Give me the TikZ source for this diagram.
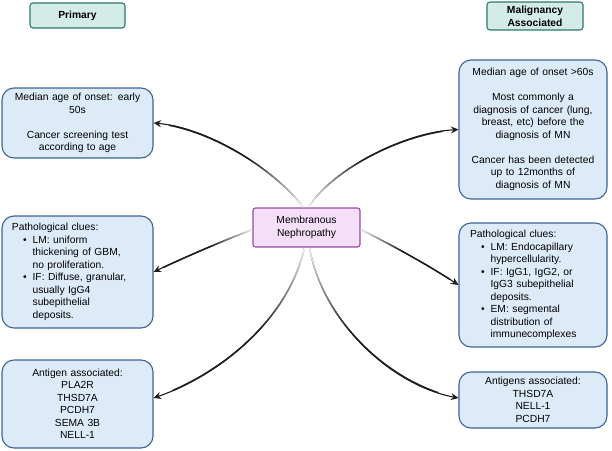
\documentclass[tikz,border=0pt]{standalone}
\usepackage{fontspec}
\setmainfont{Liberation Sans}
\usetikzlibrary{arrows.meta,decorations.markings}
\definecolor{boxfill}{RGB}{221,235,249}
\definecolor{boxdraw}{RGB}{58,100,150}
\definecolor{hdrfill}{RGB}{212,236,232}
\definecolor{hdrdraw}{RGB}{45,120,105}
\definecolor{mnfill}{RGB}{244,222,248}
\definecolor{mndraw}{RGB}{150,75,165}
\definecolor{linedark}{RGB}{30,30,30}
\begin{document}
\begin{tikzpicture}[x=1pt,y=-1pt,
  infobox/.style={draw=boxdraw, fill=boxfill, line width=1.1pt, rounded corners=12pt,
    font=\fontsize{10.3}{12.5}\selectfont, inner xsep=0pt, inner ysep=0pt},
  hdrbox/.style={draw=hdrdraw, fill=hdrfill, line width=1.1pt, rounded corners=3pt,
    font=\fontsize{10.3}{13}\selectfont\bfseries, align=center, inner sep=0pt},
  mnbox/.style={draw=mndraw, fill=mnfill, line width=1.1pt, rounded corners=2.5pt,
    font=\fontsize{10.3}{13.5}\selectfont, align=center, inner sep=0pt},
  gradarrow/.style={draw=linedark, line width=1.1pt, -{Stealth[length=7.5pt,width=7pt]},
    decoration={markings,
      mark=between positions 0 and 0.9 step 1.2pt with {
        \pgfmathsetmacro\gfr{\pgfkeysvalueof{/pgf/decoration/mark info/distance from start}/\pgfdecoratedpathlength}
        \pgfmathtruncatemacro\gpc{min(100,4+230*\gfr)}
        \draw[line width=1.4pt, line cap=butt, -, linedark!\gpc!white] (0pt,0pt) -- (1.7pt,0pt);
      }
    },
    postaction={decorate}}
]
\useasboundingbox (0,0) rectangle (612,450);

% headers
\node[hdrbox, minimum width=95pt, minimum height=25pt] (hp) at (77.5,15.5) {Primary};
\node[hdrbox, minimum width=96pt, minimum height=28pt] (hm) at (535,16) {Malignancy\\Associated};

% central node
\node[mnbox, minimum width=107pt, minimum height=39pt] (mn) at (306.5,227.5) {Membranous\\Nephropathy};

% left boxes
\node[infobox, minimum width=151pt, minimum height=70pt, text width=140pt, align=center] (lb1) at (77.5,123)
  {Median age of onset: early\\ 50s\\[12.5pt] Cancer screening test\\ according to age};
\node[infobox, minimum width=151pt, minimum height=112pt, text width=131pt, align=left] (lb2) at (77.5,272)
  {\begin{tabular}{@{\hspace{11pt}}c@{\hspace{6pt}}l@{}}
   \multicolumn{2}{@{}l@{}}{Pathological clues:}\\
   \textbullet & LM: uniform\\
               & thickening of GBM,\\
               & no proliferation.\\
   \textbullet & IF: Diffuse, granular,\\
               & usually IgG4\\
               & subepithelial\\
               & deposits.
   \end{tabular}};
\node[infobox, minimum width=151pt, minimum height=88pt, text width=140pt, align=center] (lb3) at (77.5,404)
  {Antigen associated:\\ PLA2R\\ THSD7A\\ PCDH7\\ SEMA 3B\\ NELL-1};

% right boxes
\node[infobox, minimum width=148pt, minimum height=139pt, text width=140pt, align=center] (rb1) at (533,129.5)
  {Median age of onset >60s\\[12.5pt] Most commonly a\\ diagnosis of cancer (lung,\\ breast, etc) before the\\ diagnosis of MN\\[12.5pt] Cancer has been detected\\ up to 12months of\\ diagnosis of MN};
\node[infobox, minimum width=148pt, minimum height=124pt, text width=126pt, align=left] (rb2) at (533,285)
  {\begin{tabular}{@{\hspace{11pt}}c@{\hspace{6pt}}l@{}}
   \multicolumn{2}{@{}l@{}}{Pathological clues:}\\
   \textbullet & LM: Endocapillary\\
               & hypercellularity.\\
   \textbullet & IF: IgG1, IgG2, or\\
               & IgG3 subepithelial\\
               & deposits.\\
   \textbullet & EM: segmental\\
               & distribution of\\
               & immunecomplexes
   \end{tabular}};
\node[infobox, minimum width=148pt, minimum height=56pt, text width=140pt, align=center] (rb3) at (533,400)
  {Antigens associated:\\ THSD7A\\ NELL-1\\ PCDH7};

% connectors
\draw[gradarrow] ([xshift=-3pt]mn.north) .. controls (275,170) and (210,128) .. (lb1.east);
\draw[gradarrow] ([xshift=2pt]mn.north) .. controls (330,172) and (400,133) .. (rb1.west);
\draw[gradarrow] ([yshift=-2pt]mn.west) .. controls (225,240) and (185,257) .. (lb2.east);
\draw[gradarrow] ([yshift=-2pt]mn.east) .. controls (390,244) and (430,266) .. (rb2.west);
\draw[gradarrow] ([xshift=-2pt]mn.south) .. controls (288,320) and (220,375) .. ([yshift=6pt]lb3.east);
\draw[gradarrow] ([xshift=3pt]mn.south) .. controls (322,320) and (390,385) .. ([yshift=2pt]rb3.west);
\end{tikzpicture}
\end{document}
